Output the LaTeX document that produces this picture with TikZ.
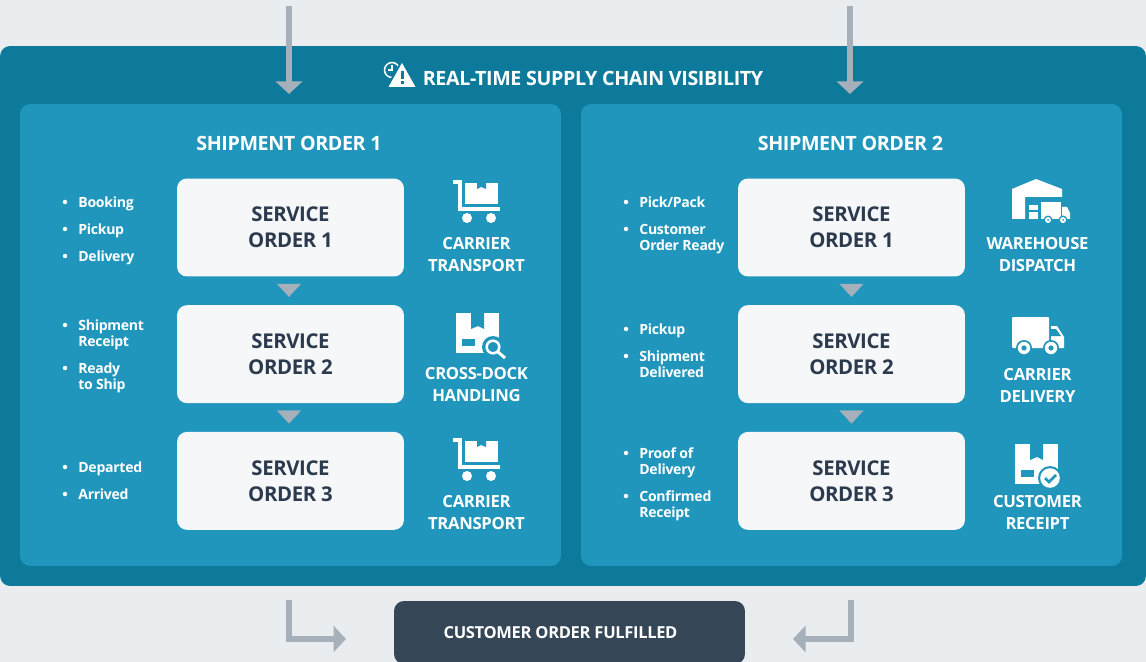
\documentclass[tikz,border=0pt]{standalone}
\usepackage{fontspec}
\setmainfont{Open Sans}[LetterSpace=-2]
\usepackage{xcolor}
\usetikzlibrary{positioning,arrows.meta}

\definecolor{pagegrey}{HTML}{E9EDF0}
\definecolor{bandteal}{HTML}{0E7A9B}
\definecolor{panelblue}{HTML}{2196BD}
\definecolor{boxwhite}{HTML}{F6F7F9}
\definecolor{inkdark}{HTML}{2B3A4D}
\definecolor{arrowgrey}{HTML}{A6B0BA}
\definecolor{slatebox}{HTML}{354657}

\tikzset{
    band/.style={fill=bandteal,rounded corners=0.2cm,inner sep=0pt,
        minimum width=22.92cm,minimum height=10.8cm},
    panel/.style={fill=panelblue,rounded corners=0.2cm,inner sep=0pt,
        minimum width=10.82cm,minimum height=9.24cm},
    service/.style={fill=boxwhite,rounded corners=0.2cm,inner sep=0pt,
        minimum width=4.54cm,minimum height=1.96cm,align=center,text=inkdark,
        font=\fontsize{11.6}{14.8}\bfseries\selectfont},
    heading/.style={text=white,inner sep=0pt,
        font=\fontsize{11.2}{14}\bfseries\selectfont},
    iconlabel/.style={text=white,inner sep=0pt,align=center,
        font=\fontsize{9.5}{12.5}\bfseries\selectfont},
    itemtext/.style={text=white,inner sep=0pt,anchor=north west,align=left,
        font=\fontsize{8}{9.1}\bfseries\selectfont},
    itemdot/.style={fill=white,circle,inner sep=0pt,minimum size=0.09cm},
    flow/.style={draw=arrowgrey,line width=0.11cm,
        -{Triangle[length=0.25cm,width=0.52cm]}},
    stepgap/.style={draw=arrowgrey,line width=0.2pt,shorten <=0.14cm,shorten >=0.16cm,
        -{Triangle[length=0.26cm,width=0.48cm]}}
}

% bullet and its text
\newcommand{\orderitem}[4]{
    \node[itemdot] (#1dot) at (#2-13,#3) {};
    \node[itemtext] (#1) at (#2,#3-5.5) {#4};
}

% parcel with tape notch and a label patch
\newcommand{\parcelglyph}[2]{
    \fill[white] (#1,#2) rectangle ++(43,40);
    \fill[panelblue] (#1+15,#2) -- ++(0,16) -- ++(7,-3) -- ++(6,3) -- ++(0,-16) -- cycle;
    \fill[panelblue] (#1+6,#2+26) rectangle ++(13,7);
}

\newcommand{\cartglyph}[2]{
    \draw[white,line width=0.07cm,line join=miter] (#1,#2+1) -- ++(7,0) -- ++(0,27) -- ++(40,0);
    \fill[white] (#1+12,#2+2) rectangle ++(33,21);
    \fill[panelblue] (#1+24,#2+2) -- ++(0,6) -- ++(4,-2) -- ++(5,2) -- ++(0,-6) -- cycle;
    \fill[white] (#1+14,#2+37) circle (5);
    \fill[white] (#1+38,#2+37) circle (5);
}

\begin{document}
\begin{tikzpicture}[x=0.02cm,y=-0.02cm]

    \clip (0,0) rectangle (1146,662);
    \fill[pagegrey] (0,0) rectangle (1146,662);

    \node[band] (chain) at (573,316) {};
    \node[panel] (orderone) at (290.5,335) {};
    \node[panel] (ordertwo) at (851.5,335) {};

    \node[heading] (chaintitle) at (593,78) {REAL-TIME SUPPLY CHAIN VISIBILITY};
    \node[heading] (onetitle) at (289,143) {SHIPMENT ORDER 1};
    \node[heading] (twotitle) at (850.5,143) {SHIPMENT ORDER 2};

    % first shipment
    \node[service] (oneA) at (290.5,227.5) {SERVICE\\ORDER 1};
    \node[service,below=0.56cm of oneA] (oneB) {SERVICE\\ORDER 2};
    \node[service,below=0.56cm of oneB] (oneC) {SERVICE\\ORDER 3};

    % second shipment
    \node[service] (twoA) at (851.5,227.5) {SERVICE\\ORDER 1};
    \node[service,below=0.56cm of twoA] (twoB) {SERVICE\\ORDER 2};
    \node[service,below=0.56cm of twoB] (twoC) {SERVICE\\ORDER 3};

    \draw[stepgap] ([xshift=-0.03cm]oneA.south) -- ([xshift=-0.03cm]oneB.north);
    \draw[stepgap] ([xshift=-0.03cm]oneB.south) -- ([xshift=-0.03cm]oneC.north);
    \draw[stepgap] (twoA.south) -- (twoB.north);
    \draw[stepgap] (twoB.south) -- (twoC.north);

    \orderitem{booking}{78}{202}{Booking}
    \orderitem{pickupA}{78}{229}{Pickup}
    \orderitem{deliveryA}{78}{256}{Delivery}
    \orderitem{receipt}{78}{325}{Shipment\\Receipt}
    \orderitem{ready}{78}{368}{Ready\\to Ship}
    \orderitem{departed}{78}{467}{Departed}
    \orderitem{arrived}{78}{494}{Arrived}

    \orderitem{pack}{639}{202}{Pick/Pack}
    \orderitem{custready}{639}{229}{Customer\\Order Ready}
    \orderitem{pickupB}{639}{329}{Pickup}
    \orderitem{delivered}{639}{356}{Shipment\\Delivered}
    \orderitem{proof}{639}{453}{Proof of\\Delivery}
    \orderitem{confirmed}{639}{496}{Confirmed\\Receipt}

    \node[iconlabel] (transportA) at (476.5,255) {CARRIER\\TRANSPORT};
    \node[iconlabel] (crossdock) at (476.5,385) {CROSS-DOCK\\HANDLING};
    \node[iconlabel] (transportB) at (476.5,513) {CARRIER\\TRANSPORT};
    \node[iconlabel] (dispatch) at (1037.5,255) {WAREHOUSE\\DISPATCH};
    \node[iconlabel] (carrier) at (1037.5,385) {CARRIER\\DELIVERY};
    \node[iconlabel] (customer) at (1037.5,513) {CUSTOMER\\RECEIPT};

    % clock and warning sign
    \draw[white,line width=0.03cm] (392,70) circle (7.5);
    \draw[white,line width=0.03cm] (392,65.5) -- (392,70) -- (388,70);
    \fill[bandteal] (402,59) -- (419,89) -- (385,89) -- cycle;
    \fill[white] (402,63) -- (415.5,87) -- (388.5,87) -- cycle;
    \fill[bandteal] (400.5,71) rectangle (403.5,79);
    \fill[bandteal] (400.5,81) rectangle (403.5,84);

    \cartglyph{453}{181}
    \cartglyph{453}{439}

    % parcel and magnifier
    \parcelglyph{456}{313}
    \fill[panelblue] (493,347) circle (11);
    \draw[white,line width=0.05cm] (493,347) circle (6.3);
    \draw[white,line width=0.06cm] (498,352) -- (505,358);

    % parcel and check
    \parcelglyph{1015}{444}
    \fill[panelblue] (1050,478) circle (12);
    \fill[white] (1050,478) circle (9.8);
    \draw[panelblue,line width=0.05cm] (1045,478) -- (1049,482) -- (1056,475);

    % warehouse and small truck
    \fill[white] (1012,189) -- (1036,179) -- (1062,189) -- (1062,197) -- (1025,197)
        -- (1025,219) -- (1012,219) -- cycle;
    \fill[white] (1029,205) rectangle (1038,210);
    \fill[white] (1029,212) rectangle (1038,219);
    \fill[white] (1041,202) rectangle (1061,219);
    \fill[white] (1062,207) -- (1067,207) -- (1070,213) -- (1070,219) -- (1062,219) -- cycle;
    \fill[panelblue] (1048,220) circle (4.5);
    \fill[panelblue] (1063,220) circle (4.5);
    \fill[white] (1048,220) circle (3);
    \fill[white] (1063,220) circle (3);
    \fill[panelblue] (1048,220) circle (1);
    \fill[panelblue] (1063,220) circle (1);

    % delivery truck
    \fill[white,rounded corners=0.02cm] (1012,317) rectangle (1049,348);
    \fill[white] (1051,326) -- (1057,326) -- (1064,337) -- (1064,348) -- (1051,348) -- cycle;
    \fill[panelblue] (1050,329) -- (1056,329) -- (1061,336) -- (1050,336) -- cycle;
    \fill[panelblue] (1024,348) circle (8);
    \fill[panelblue] (1051,348) circle (8);
    \fill[white] (1024,348) circle (6.2);
    \fill[white] (1051,348) circle (6.2);
    \fill[panelblue] (1024,348) circle (2.6);
    \fill[panelblue] (1051,348) circle (2.6);

    % flows in and out
    \coordinate (feedA) at (289,6);
    \coordinate (feedB) at (850,6);
    \coordinate (intoA) at (289,94);
    \coordinate (intoB) at (850,94);
    \draw[flow] (feedA) -- (intoA);
    \draw[flow] (feedB) -- (intoB);

    \node[fill=slatebox,rounded corners=0.2cm,inner sep=0pt,
        minimum width=7.02cm,minimum height=1.26cm,text=white,
        font=\fontsize{9.4}{12}\bfseries\selectfont]
        (fulfilled) at (569.5,632.5) {CUSTOMER ORDER FULFILLED\hspace*{0.36cm}};

    \coordinate (leaveA) at (289,600);
    \coordinate (leaveB) at (851,600);
    \coordinate (landA) at (346,639);
    \coordinate (landB) at (793,639);
    \draw[flow] (leaveA) |- (landA);
    \draw[flow] (leaveB) |- (landB);

\end{tikzpicture}
\end{document}
